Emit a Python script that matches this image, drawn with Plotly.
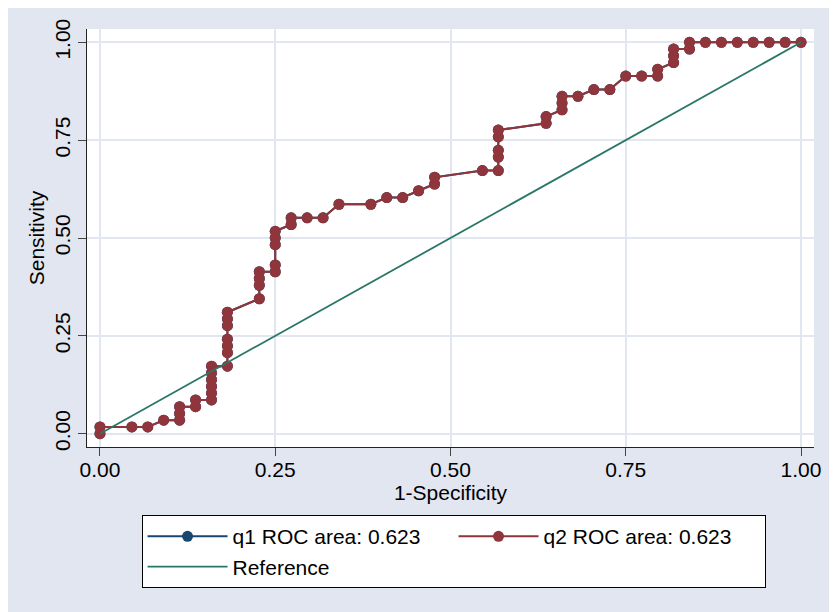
import plotly.graph_objects as go

# ROC points (1-specificity, sensitivity)
fpr = [0, 0, 0.0455, 0.0682, 0.0909, 0.1136, 0.1136, 0.1136, 0.1364, 0.1364,
       0.1591, 0.1591, 0.1591, 0.1591, 0.1591, 0.1591,
       0.1818, 0.1818, 0.1818, 0.1818, 0.1818, 0.1818, 0.1818,
       0.2273, 0.2273, 0.2273, 0.2273,
       0.25, 0.25, 0.25, 0.25, 0.25,
       0.2727, 0.2727, 0.2955, 0.3182, 0.3409, 0.3864, 0.4091, 0.4318, 0.4545,
       0.4773, 0.4773, 0.5455,
       0.5682, 0.5682, 0.5682, 0.5682, 0.5682,
       0.6364, 0.6364, 0.6591, 0.6591, 0.6591,
       0.6818, 0.7045, 0.7273, 0.75, 0.7727,
       0.7955, 0.7955, 0.8182, 0.8182, 0.8182, 0.8409, 0.8409,
       0.8636, 0.8864, 0.9091, 0.9318, 0.9545, 0.9773, 1.0]
sens = [0, 0.0172, 0.0172, 0.0172, 0.0345, 0.0345, 0.0517, 0.0690, 0.0690, 0.0862,
        0.0862, 0.1034, 0.1207, 0.1379, 0.1552, 0.1724,
        0.1724, 0.2069, 0.2241, 0.2414, 0.2759, 0.2931, 0.3103,
        0.3448, 0.3793, 0.3966, 0.4138,
        0.4138, 0.4310, 0.4828, 0.5, 0.5172,
        0.5345, 0.5517, 0.5517, 0.5517, 0.5862, 0.5862, 0.6034, 0.6034, 0.6207,
        0.6379, 0.6552, 0.6724,
        0.6724, 0.7069, 0.7241, 0.7586, 0.7759,
        0.7931, 0.8103, 0.8276, 0.8448, 0.8621,
        0.8621, 0.8793, 0.8793, 0.9138, 0.9138,
        0.9138, 0.9310, 0.9483, 0.9655, 0.9828, 0.9828, 1.0,
        1.0, 1.0, 1.0, 1.0, 1.0, 1.0, 1.0]
ref_x = [0, 1]
ref_y = [0, 1]
ticks = [0, 0.25, 0.5, 0.75, 1]
tick_text = ["0.00", "0.25", "0.50", "0.75", "1.00"]

BG = "#E1E6F0"
FONT = "Liberation Sans, Arial, sans-serif"

fig = go.Figure()
fig.add_trace(go.Scatter(x=fpr, y=sens, mode="lines+markers", name="q1 ROC area: 0.623",
                         line=dict(color="#1A476F", width=2), marker=dict(size=11, color="#1A476F")))
fig.add_trace(go.Scatter(x=fpr, y=sens, mode="lines+markers", name="q2 ROC area: 0.623",
                         line=dict(color="#90353B", width=2), marker=dict(size=11, color="#90353B")))
fig.add_trace(go.Scatter(x=ref_x, y=ref_y, mode="lines", name="Reference",
                         line=dict(color="#2A7768", width=1.8)))

axis_common = dict(tickvals=ticks, ticktext=tick_text, showgrid=True, gridcolor=BG, gridwidth=2,
                   zeroline=False, showline=True, linecolor="#222", linewidth=1,
                   ticks="outside", ticklen=8, tickcolor="#444", automargin=False,
                   tickfont=dict(size=21, color="black", family=FONT))

fig.update_xaxes(range=[-0.0185, 1.0185], ticklabelstandoff=-4,
                 title=dict(text="1-Specificity", standoff=0,
                            font=dict(size=21, color="black", family=FONT)), **axis_common)
fig.update_yaxes(range=[-0.034, 1.034], tickangle=-90,
                 title=dict(text="Sensitivity", standoff=0,
                            font=dict(size=21, color="black", family=FONT)), **axis_common)

# the page itself adds an 8px offset at top/left, so margins are trimmed by that amount
fig.update_layout(
    width=837, height=612,
    margin=dict(l=79, r=31, t=21, b=173, autoexpand=False),
    paper_bgcolor=BG, plot_bgcolor="white",
    font=dict(family=FONT, size=21, color="black"),
    showlegend=True,
    legend=dict(orientation="h", x=0.075, y=-0.163, xanchor="left", yanchor="top",
                bgcolor="white", bordercolor="black", borderwidth=1,
                entrywidth=216, itemwidth=80, font=dict(size=21, family=FONT),
                tracegroupgap=0),
)

fig.write_html("out.html")
